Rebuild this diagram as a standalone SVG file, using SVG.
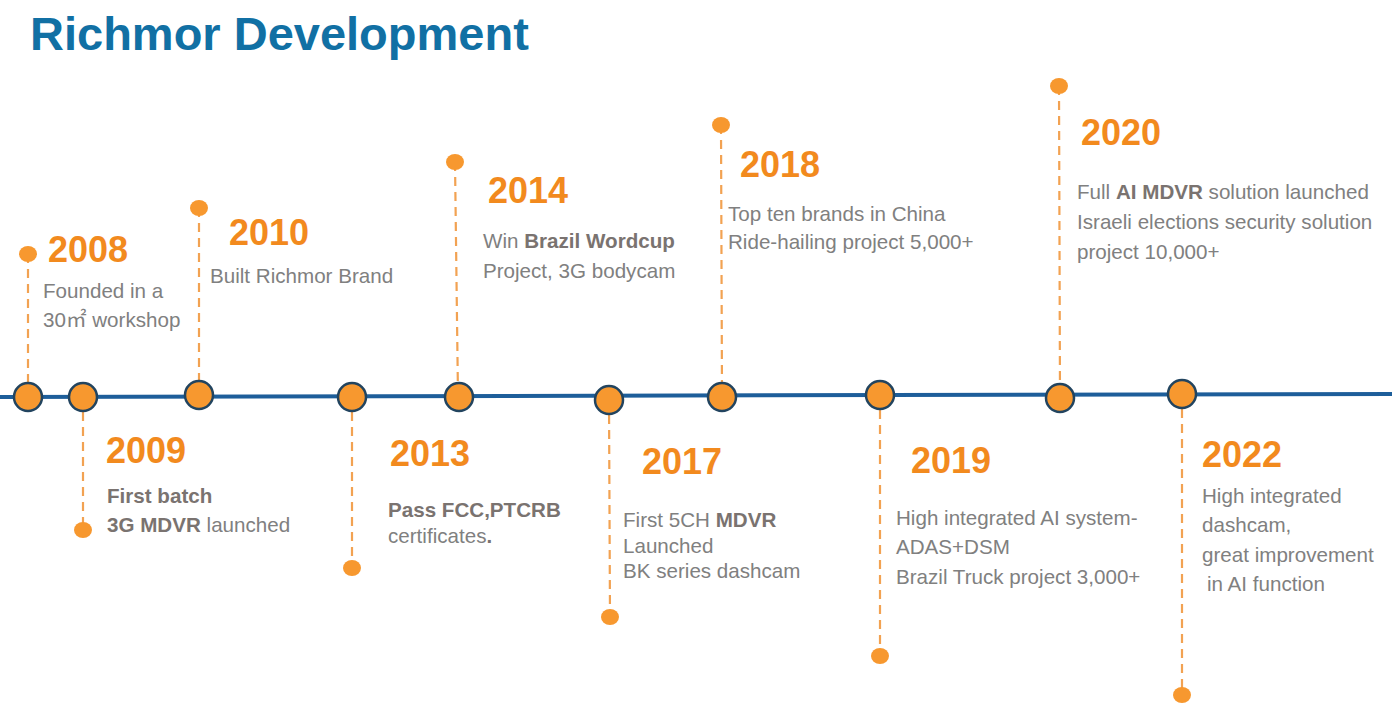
<svg xmlns="http://www.w3.org/2000/svg" width="1392" height="727" viewBox="0 0 1392 727">
<style>
.title{font-family:"Liberation Sans",Arial,sans-serif;font-weight:bold;font-size:47px;fill:#1170a4}
.yr{font-family:"Liberation Sans",Arial,sans-serif;font-weight:bold;font-size:36px;fill:#f28a1e}
.tx{font-family:"Liberation Sans",Arial,"Noto Sans CJK SC",sans-serif;font-size:20.6px;fill:#808080}
.b{font-weight:bold;fill:#7a7370}
.dash{stroke:#f2a252;stroke-width:2.2;stroke-dasharray:9 6;fill:none}
.dot{fill:#f7982f}
.big{fill:#f7982f;stroke:#22445f;stroke-width:2.5}
</style>
<rect width="1392" height="727" fill="#ffffff"/>
<text class="title" x="30" y="50">Richmor Development</text>
<g id="connectors">
<path d="M0 397 L1392 394" stroke="#1d5e9a" stroke-width="4" fill="none"/>
<line class="dash" x1="28" y1="254" x2="28" y2="397"/>
<line class="dash" x1="83" y1="397" x2="83" y2="530"/>
<line class="dash" x1="199" y1="208" x2="199" y2="395"/>
<line class="dash" x1="352" y1="397" x2="352" y2="568"/>
<line class="dash" x1="455" y1="162" x2="458" y2="397"/>
<line class="dash" x1="609" y1="400" x2="610" y2="617"/>
<line class="dash" x1="721" y1="125" x2="722" y2="397"/>
<line class="dash" x1="880" y1="395" x2="880" y2="656"/>
<line class="dash" x1="1059" y1="86" x2="1060" y2="398"/>
<line class="dash" x1="1182" y1="394" x2="1182" y2="695"/>
</g>
<g id="n2008">
<ellipse class="dot" cx="28" cy="254" rx="9" ry="8"/>
<circle class="big" cx="28" cy="397" r="14"/>
<text class="yr" x="48" y="262">2008</text>
<text class="tx" x="43" y="298">Founded in a</text>
<text class="tx" x="43" y="327">30㎡ workshop</text>
</g>
<g id="n2009">
<circle class="big" cx="83" cy="397" r="14"/>
<ellipse class="dot" cx="83" cy="530" rx="9" ry="8"/>
<text class="yr" x="106" y="463">2009</text>
<text class="tx b" x="107" y="503">First batch</text>
<text class="tx" x="107" y="532"><tspan class="b">3G MDVR</tspan> launched</text>
</g>
<g id="n2010">
<ellipse class="dot" cx="199" cy="208" rx="9" ry="8"/>
<circle class="big" cx="199" cy="395" r="14"/>
<text class="yr" x="229" y="245">2010</text>
<text class="tx" x="210" y="283">Built Richmor Brand</text>
</g>
<g id="n2013">
<circle class="big" cx="352" cy="397" r="14"/>
<ellipse class="dot" cx="352" cy="568" rx="9" ry="8"/>
<text class="yr" x="390" y="466">2013</text>
<text class="tx b" x="388" y="517">Pass FCC,PTCRB</text>
<text class="tx" x="388" y="543">certificates<tspan class="b">.</tspan></text>
</g>
<g id="n2014">
<ellipse class="dot" cx="455" cy="162" rx="9" ry="8"/>
<circle class="big" cx="459" cy="397" r="14"/>
<text class="yr" x="488" y="203">2014</text>
<text class="tx" x="483" y="248">Win <tspan class="b">Brazil Wordcup</tspan></text>
<text class="tx" x="483" y="278">Project, 3G bodycam</text>
</g>
<g id="n2017">
<circle class="big" cx="609" cy="400" r="14"/>
<ellipse class="dot" cx="610" cy="617" rx="9" ry="8"/>
<text class="yr" x="642" y="474">2017</text>
<text class="tx" x="623" y="527">First 5CH <tspan class="b">MDVR</tspan></text>
<text class="tx" x="623" y="553">Launched</text>
<text class="tx" x="623" y="578">BK series dashcam</text>
</g>
<g id="n2018">
<ellipse class="dot" cx="721" cy="125" rx="9" ry="8"/>
<circle class="big" cx="722" cy="397" r="14"/>
<text class="yr" x="740" y="177">2018</text>
<text class="tx" x="728" y="221">Top ten brands in China</text>
<text class="tx" x="728" y="249">Ride-hailing project 5,000+</text>
</g>
<g id="n2019">
<circle class="big" cx="880" cy="395" r="14"/>
<ellipse class="dot" cx="880" cy="656" rx="9" ry="8"/>
<text class="yr" x="911" y="473">2019</text>
<text class="tx" x="896" y="525">High integrated AI system-</text>
<text class="tx" x="896" y="554">ADAS+DSM</text>
<text class="tx" x="896" y="584">Brazil Truck project 3,000+</text>
</g>
<g id="n2020">
<ellipse class="dot" cx="1059" cy="86" rx="9" ry="8"/>
<circle class="big" cx="1060" cy="398" r="14"/>
<text class="yr" x="1081" y="145">2020</text>
<text class="tx" x="1077" y="199">Full <tspan class="b">AI MDVR</tspan> solution launched</text>
<text class="tx" x="1077" y="229">Israeli elections security solution</text>
<text class="tx" x="1077" y="259">project 10,000+</text>
</g>
<g id="n2022">
<circle class="big" cx="1182" cy="394" r="14"/>
<ellipse class="dot" cx="1182" cy="695" rx="9" ry="8"/>
<text class="yr" x="1202" y="467">2022</text>
<text class="tx" x="1202" y="503">High integrated</text>
<text class="tx" x="1202" y="532">dashcam,</text>
<text class="tx" x="1202" y="562">great improvement</text>
<text class="tx" x="1207" y="591">in AI function</text>
</g>
</svg>
